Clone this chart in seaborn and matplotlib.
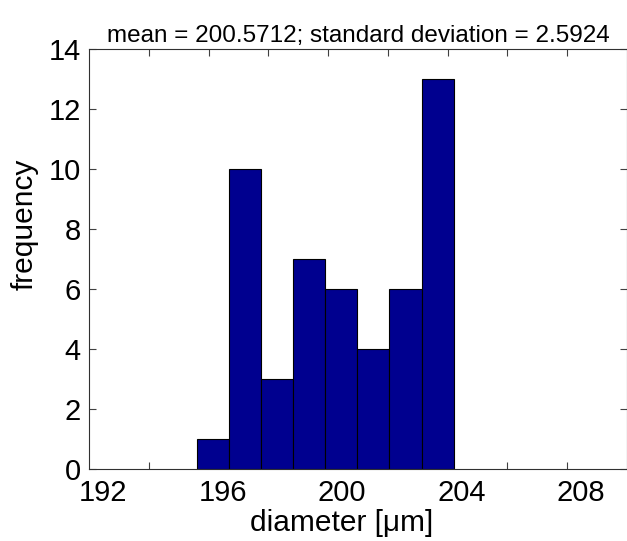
import numpy as np
import pandas as pd
import matplotlib
matplotlib.use("Agg")
import matplotlib.pyplot as plt
import seaborn as sns
from matplotlib.ticker import FixedLocator, FixedFormatter

# Histogram of measured diameters (µm)
bin_edges = [195.62, 196.69, 197.76, 198.84, 199.91, 200.98, 202.05, 203.13, 204.20]
counts = [1, 10, 3, 7, 6, 4, 6, 13]

x_tick_labels = ["192", "196", "200", "204", "208"]
x_tick_values = [192, 196, 200, 204, 208]
y_ticks = [0, 2, 4, 6, 8, 10, 12, 14]

title_text = "mean = 200.5712; standard deviation = 2.5924"

centers = [(a + b) / 2 for a, b in zip(bin_edges[:-1], bin_edges[1:])]
df = pd.DataFrame({"diameter": centers, "count": counts})

sns.set_theme(style="white")
plt.rcParams["font.family"] = ["Liberation Sans", "DejaVu Sans"]

fig = plt.figure(figsize=(6.27, 5.41), dpi=100)
ax = fig.add_axes([89 / 627, 72 / 541, 538 / 627, 420 / 541])

sns.histplot(data=df, x="diameter", weights="count", bins=bin_edges,
             color="#00008F", edgecolor="black", linewidth=0.8, alpha=1.0, ax=ax)

ax.set_xlim(192, 210)
ax.set_ylim(0, 14)

# labels sit half a unit to the right of the tick marks
label_shift = 0.47
ax.xaxis.set_major_locator(FixedLocator([v + label_shift for v in x_tick_values]))
ax.xaxis.set_major_formatter(FixedFormatter(x_tick_labels))
ax.xaxis.set_minor_locator(FixedLocator(list(range(194, 210, 2))))
ax.set_yticks(y_ticks)
ax.set_yticklabels([str(v) for v in y_ticks])

ax.tick_params(axis="x", which="major", length=0, labelsize=21, pad=7,
               colors="black")
ax.tick_params(axis="x", which="minor", direction="in", length=5, width=0.8,
               top=True, bottom=True, color="#404040")
ax.tick_params(axis="y", which="major", direction="in", length=5, width=0.8,
               left=True, right=True, labelsize=21, pad=6, color="#404040",
               labelcolor="black")

for side in ["left", "right", "top", "bottom"]:
    ax.spines[side].set_visible(True)
    ax.spines[side].set_color("#303030")
    ax.spines[side].set_linewidth(0.8)

ax.set_xlabel("diameter [\u03bcm]", fontsize=21.5, color="black")
ax.set_ylabel("frequency", fontsize=21.5, color="black")
ax.xaxis.set_label_coords(0.47, -0.095)
ax.yaxis.set_label_coords(-0.093, 0.583)
ax.set_title(title_text, fontsize=17.5, pad=5, color="black")

fig.savefig("out.png", dpi=100, facecolor="white")
